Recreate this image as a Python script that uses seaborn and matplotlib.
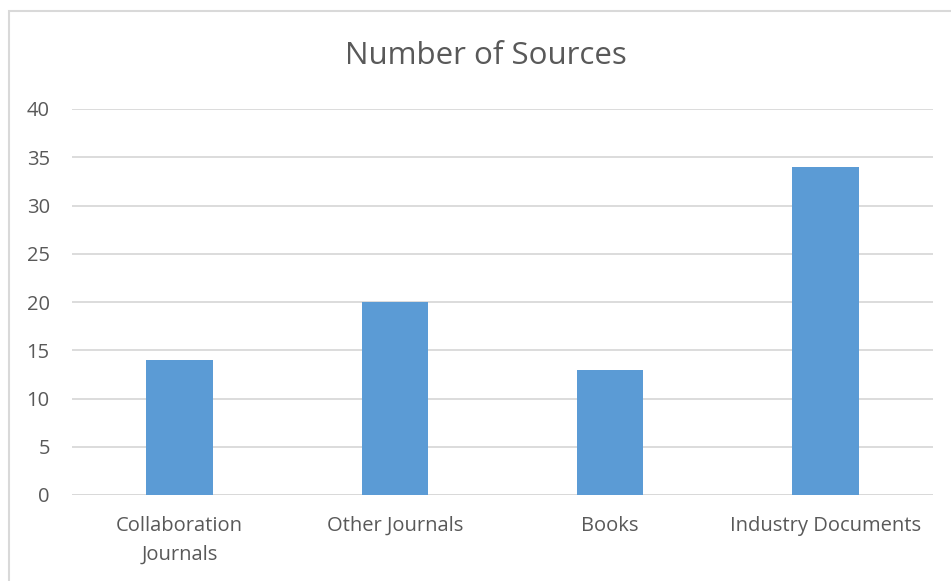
import matplotlib
matplotlib.use("Agg")
import matplotlib.pyplot as plt
import seaborn as sns
import pandas as pd
from matplotlib.patches import Rectangle

categories = ["Collaboration\nJournals", "Other Journals", "Books", "Industry Documents"]
counts = [14, 20, 13, 34]
y_ticks = [0, 5, 10, 15, 20, 25, 30, 35, 40]

sns.set_theme(style="white")
plt.rcParams["font.family"] = ["Open Sans", "DejaVu Sans"]

text_color = "#595959"
grid_color = "#D9D9D9"
bar_color = "#5B9BD5"

df = pd.DataFrame({"category": categories, "count": counts})

fig = plt.figure(figsize=(9.51, 5.81), dpi=100)
ax = fig.add_axes([72 / 951, 1 - 495 / 581, (933 - 72) / 951, (495 - 109) / 581])

sns.barplot(data=df, x="category", y="count", color=bar_color, width=0.31,
            saturation=1, linewidth=0, ax=ax, zorder=3)

ax.set_ylim(0, 40)
ax.set_yticks(y_ticks)
ax.set_xlim(-0.5, len(categories) - 0.5)
ax.yaxis.grid(True, color=grid_color, linewidth=1.3, zorder=0)
ax.set_axisbelow(True)
for s in ax.spines.values():
    s.set_visible(False)
ax.axhline(0, color=grid_color, linewidth=1.3, zorder=2)

ax.set_xlabel("")
ax.set_ylabel("")
ax.tick_params(axis="y", length=0, pad=16, labelsize=14.5, labelcolor=text_color)
ax.tick_params(axis="x", length=0, pad=15, labelsize=14.5, labelcolor=text_color)
for lbl in ax.get_xticklabels():
    lbl.set_linespacing(1.6)

fig.text(486 / 951, 1 - 56 / 581, "Number of Sources", ha="center", va="center",
         fontsize=22.5, color=text_color)

# chart frame
fig.patches.append(Rectangle((8.5 / 951, -0.1), 1.2, 1 - 10.5 / 581 + 0.1,
                             transform=fig.transFigure, fill=False,
                             edgecolor=grid_color, linewidth=1.5))

fig.savefig("out.png", dpi=100, facecolor="white")
